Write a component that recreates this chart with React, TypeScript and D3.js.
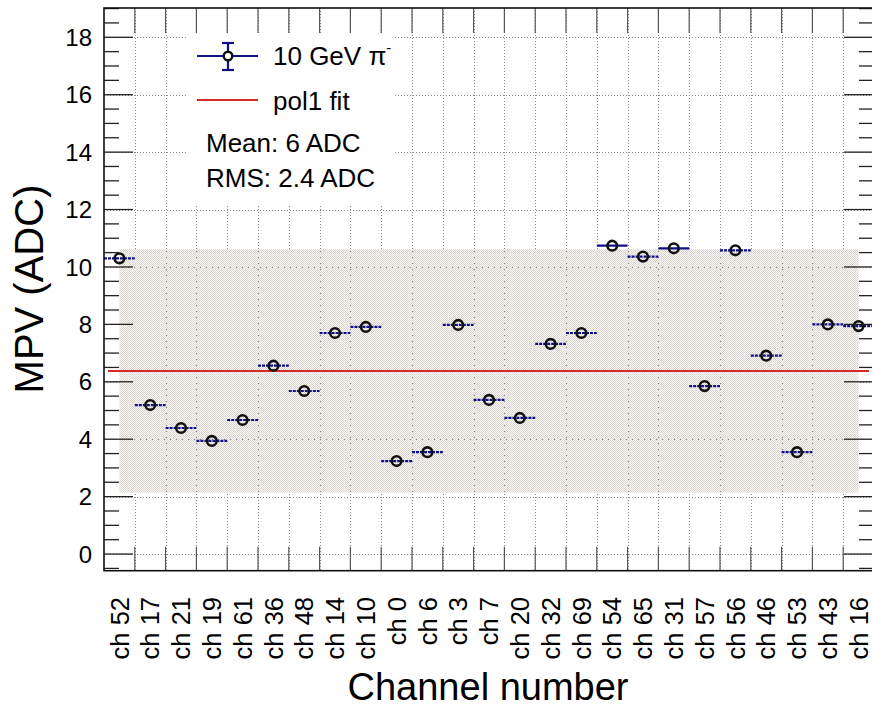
import React from "react";
import * as d3 from "d3";

const channels = ["ch 52","ch 17","ch 21","ch 19","ch 61","ch 36","ch 48","ch 14","ch 10","ch 0","ch 6","ch 3","ch 7","ch 20","ch 32","ch 69","ch 54","ch 65","ch 31","ch 57","ch 56","ch 46","ch 53","ch 43","ch 16"];
const mpv = [10.30,5.19,4.39,3.94,4.67,6.56,5.68,7.70,7.91,3.24,3.55,7.98,5.37,4.74,7.32,7.70,10.74,10.36,10.65,5.85,10.58,6.91,3.55,8.00,7.94];
const fitValue = 6.38;
const bandLow = 2.14;
const bandHigh = 10.62;
const yMajorTicks = [0,2,4,6,8,10,12,14,16,18];
const legendSeries = "10 GeV π";
const legendFit = "pol1 fit";
const statLines = ["Mean: 6 ADC", "RMS: 2.4 ADC"];

const W = 872, H = 707;
const L = 104, R = 874, T = 8, B = 570.7;
const FONT = "'Liberation Sans', Arial, Helvetica, sans-serif";
const NAVY = "#10108a";

export default function App() {
  const x = d3.scaleBand<string>().domain(channels).range([L, R]).paddingInner(0).paddingOuter(0);
  const y = d3.scaleLinear().domain([-0.58, 19.02]).range([B, T]);
  const bw = x.bandwidth();
  const edges = d3.range(1, channels.length).map(i => L + i * bw);
  const minor = d3.range(-0.5, 19.01, 0.5).filter(v => Math.abs(v / 2 - Math.round(v / 2)) > 1e-6);
  const cx = (c: string) => (x(c) as number) + bw / 2;
  const inBand = (v: number) => v >= bandLow && v <= bandHigh;

  return (
    <svg width={W} height={H} style={{ position: "absolute", left: 0, top: 0, background: "#fff" }} fontFamily={FONT}>
      <defs>
        <pattern id="dots" patternUnits="userSpaceOnUse" x={0} y={0} width={2} height={2}>
          <rect x={0} y={0} width={1} height={1} fill="#dbd5ce" />
          <rect x={1} y={1} width={1} height={1} fill="#dbd5ce" />
          <rect x={1} y={0} width={1} height={1} fill="#f6f4f2" />
        </pattern>
        <clipPath id="frame"><rect x={L} y={T} width={R - L} height={B - T} /></clipPath>
      </defs>
      <rect width={W} height={H} fill="#fff" />

      {/* grid */}
      <g stroke="#8a8a8a" strokeWidth={1} strokeDasharray="1,2">
        {edges.map((e, i) => (
          <line key={"gx" + i} x1={Math.round(e) + 0.5} x2={Math.round(e) + 0.5} y1={T} y2={B} />
        ))}
        {yMajorTicks.map(v => (
          <line key={"gy" + v} x1={L} x2={R} y1={Math.round(y(v)) + 0.5} y2={Math.round(y(v)) + 0.5} />
        ))}
      </g>

      {/* band */}
      <rect x={cx(channels[0])} width={cx(channels[channels.length - 1]) - cx(channels[0])}
        y={y(bandHigh)} height={y(bandLow) - y(bandHigh)} fill="url(#dots)" />

      {/* error bars */}
      <g clipPath="url(#frame)" stroke={NAVY} strokeWidth={2.2}>
        {channels.map((c, i) => (
          <line key={"eb" + i} x1={x(c) as number} x2={(x(c) as number) + bw} y1={y(mpv[i])} y2={y(mpv[i])}
            strokeDasharray={inBand(mpv[i]) ? "3,1" : undefined} />
        ))}
      </g>

      {/* fit line */}
      <line x1={L + 4} x2={R - 5} y1={y(fitValue)} y2={y(fitValue)} stroke="#d42a2a" strokeWidth={2} />

      {/* markers */}
      <g clipPath="url(#frame)">
        {channels.map((c, i) => (
          <circle key={"m" + i} cx={cx(c)} cy={y(mpv[i])} r={4.8} fill="none" stroke="#111" strokeWidth={2.6} />
        ))}
      </g>

      {/* legend box */}
      <rect x={188} y={33} width={207} height={172} fill="#fff" />
      <g>
        <line x1={197} x2={258} y1={56} y2={56} stroke={NAVY} strokeWidth={2.2} />
        <line x1={228} x2={228} y1={43} y2={70} stroke={NAVY} strokeWidth={2.2} />
        <line x1={222} x2={234} y1={43} y2={43} stroke={NAVY} strokeWidth={2.2} />
        <line x1={222} x2={234} y1={70} y2={70} stroke={NAVY} strokeWidth={2.2} />
        <circle cx={228} cy={56} r={4.3} fill="#fff" stroke="#111" strokeWidth={2.4} />
        <text x={273} y={65} fontSize={26} fill="#000">{legendSeries}<tspan fontSize={15} dy={-12}>-</tspan></text>
        <line x1={197} x2={258} y1={100} y2={100} stroke="#d42a2a" strokeWidth={2} />
        <text x={273} y={110} fontSize={26} fill="#000">{legendFit}</text>
        <text x={206} y={151.5} fontSize={26} fill="#000">{statLines[0]}</text>
        <text x={206} y={187} fontSize={26} fill="#000">{statLines[1]}</text>
      </g>

      {/* x ticks top and bottom */}
      <g stroke="#555" strokeWidth={1.2}>
        {edges.map((e, i) => (
          <g key={"tx" + i}>
            <line x1={e} x2={e} y1={T} y2={T + 25} />
            <line x1={e} x2={e} y1={B} y2={B - 24} />
          </g>
        ))}
      </g>

      {/* y ticks left and right */}
      <g stroke="#222" strokeWidth={1.3}>
        {yMajorTicks.map(v => (
          <g key={"ty" + v}>
            <line x1={L} x2={L + 29} y1={y(v)} y2={y(v)} />
            <line x1={R} x2={R - 30} y1={y(v)} y2={y(v)} />
          </g>
        ))}
        {minor.map(v => (
          <g key={"tm" + v}>
            <line x1={L} x2={L + 15} y1={y(v)} y2={y(v)} />
            <line x1={R} x2={R - 15} y1={y(v)} y2={y(v)} />
          </g>
        ))}
      </g>

      {/* frame */}
      <rect x={L} y={T} width={R - L} height={B - T} fill="none" stroke="#111" strokeWidth={1.6} />

      {/* y tick labels */}
      <g fontSize={24} textAnchor="end" fill="#000">
        {yMajorTicks.map(v => (
          <text key={"yl" + v} x={92} y={y(v)} dy="0.36em">{v}</text>
        ))}
      </g>

      {/* x category labels */}
      <g fontSize={25.5} textAnchor="end" fill="#000">
        {channels.map((c, i) => (
          <text key={"xl" + i} transform={`translate(${cx(c)},597) rotate(-90)`} dy="0.36em">{c}</text>
        ))}
      </g>

      {/* axis titles */}
      <text transform={`translate(43,289) rotate(-90)`} textAnchor="middle" fontSize={40} fill="#000">MPV (ADC)</text>
      <text x={488} y={700} textAnchor="middle" fontSize={38} fill="#000">Channel number</text>
    </svg>
  );
}
